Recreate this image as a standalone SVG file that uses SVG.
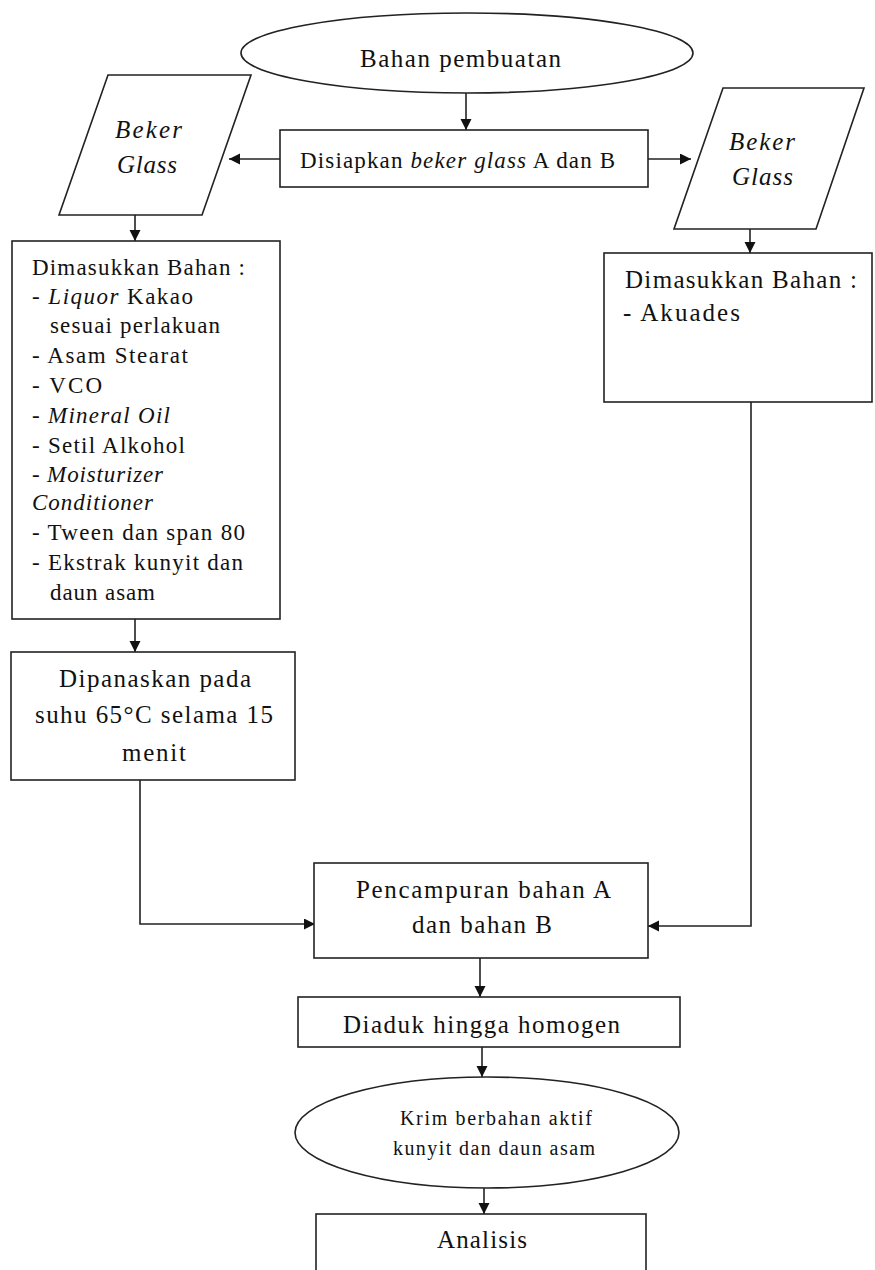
<svg xmlns="http://www.w3.org/2000/svg" width="875" height="1270" viewBox="0 0 875 1270">
<style>
.s{fill:#fff;stroke:#222;stroke-width:1.6}
.c{fill:none;stroke:#222;stroke-width:1.6}
text{font-family:"Liberation Serif","Times New Roman",serif;fill:#111}
.i{font-style:italic}
.t20{font-size:23px}
.t25{font-size:25px}
.t17{font-size:20px}
</style>
<defs>
<marker id="ah" markerWidth="12" markerHeight="12" refX="11" refY="5.5" orient="auto" markerUnits="userSpaceOnUse">
<path d="M0,0 L11,5.5 L0,11 Z" fill="#111"/>
</marker>
</defs>
<rect width="875" height="1270" fill="#fff"/>
<g id="connectors">
<line class="c" x1="466" y1="93" x2="466" y2="130" marker-end="url(#ah)"/>
<line class="c" x1="280" y1="159" x2="229" y2="159" marker-end="url(#ah)"/>
<line class="c" x1="648" y1="159" x2="691" y2="159" marker-end="url(#ah)"/>
<line class="c" x1="135" y1="215" x2="135" y2="241" marker-end="url(#ah)"/>
<line class="c" x1="750" y1="229" x2="750" y2="253" marker-end="url(#ah)"/>
<line class="c" x1="135" y1="619" x2="135" y2="652" marker-end="url(#ah)"/>
<polyline class="c" points="140,780 140,924 315,924" marker-end="url(#ah)"/>
<polyline class="c" points="751,402 751,926 648,926" marker-end="url(#ah)"/>
<line class="c" x1="480" y1="958" x2="480" y2="997" marker-end="url(#ah)"/>
<line class="c" x1="482" y1="1047" x2="482" y2="1077" marker-end="url(#ah)"/>
<line class="c" x1="484" y1="1188" x2="484" y2="1214" marker-end="url(#ah)"/>
</g>
<g id="start">
<ellipse class="s" cx="467" cy="53" rx="226" ry="40"/>
<text class="t25" x="360" y="67" textLength="201" lengthAdjust="spacing">Bahan pembuatan</text>
</g>
<g id="prepare">
<rect class="s" x="280" y="130" width="368" height="57"/>
<text class="t20" x="300" y="168" textLength="315" lengthAdjust="spacing">Disiapkan <tspan class="i">beker glass</tspan> A dan B</text>
</g>
<g id="beker-left">
<polygon class="s" points="108,75 251,75 202,215 59,215"/>
<text class="t25 i" x="115" y="138" textLength="67" lengthAdjust="spacing">Beker</text>
<text class="t25 i" x="117" y="173" textLength="60" lengthAdjust="spacing">Glass</text>
</g>
<g id="beker-right">
<polygon class="s" points="723,88 864,88 816,229 674,229"/>
<text class="t25 i" x="729" y="150" textLength="66" lengthAdjust="spacing">Beker</text>
<text class="t25 i" x="732" y="185" textLength="61" lengthAdjust="spacing">Glass</text>
</g>
<g id="bahan-a">
<rect class="s" x="12" y="241" width="268" height="378"/>
<text class="t20" x="32" y="275" textLength="213" lengthAdjust="spacing">Dimasukkan Bahan :</text>
<text class="t20" x="32" y="304" textLength="161" lengthAdjust="spacing">- <tspan class="i">Liquor</tspan> Kakao</text>
<text class="t20" x="50" y="333" textLength="170" lengthAdjust="spacing">sesuai perlakuan</text>
<text class="t20" x="32" y="363" textLength="156" lengthAdjust="spacing">- Asam Stearat</text>
<text class="t20" x="32" y="393" textLength="70" lengthAdjust="spacing">- VCO</text>
<text class="t20" x="32" y="423" textLength="138" lengthAdjust="spacing">- <tspan class="i">Mineral Oil</tspan></text>
<text class="t20" x="32" y="453" textLength="153" lengthAdjust="spacing">- Setil Alkohol</text>
<text class="t20" x="32" y="482" textLength="131" lengthAdjust="spacing">- <tspan class="i">Moisturizer</tspan></text>
<text class="t20 i" x="32" y="510" textLength="121" lengthAdjust="spacing">Conditioner</text>
<text class="t20" x="32" y="540" textLength="213" lengthAdjust="spacing">- Tween dan span 80</text>
<text class="t20" x="32" y="570" textLength="211" lengthAdjust="spacing">- Ekstrak kunyit dan</text>
<text class="t20" x="50" y="600" textLength="105" lengthAdjust="spacing">daun asam</text>
</g>
<g id="bahan-b">
<rect class="s" x="604" y="253" width="268" height="149"/>
<text class="t25" x="625" y="288" textLength="232" lengthAdjust="spacing">Dimasukkan Bahan :</text>
<text class="t25" x="623" y="321" textLength="117" lengthAdjust="spacing">- Akuades</text>
</g>
<g id="heat">
<rect class="s" x="11" y="652" width="284" height="128"/>
<text class="t25" x="59" y="687" textLength="192" lengthAdjust="spacing">Dipanaskan pada</text>
<text class="t25" x="35" y="723" textLength="238" lengthAdjust="spacing">suhu 65°C selama 15</text>
<text class="t25" x="122" y="761" textLength="64" lengthAdjust="spacing">menit</text>
</g>
<g id="mix">
<rect class="s" x="314" y="863" width="334" height="95"/>
<text class="t25" x="356" y="898" textLength="255" lengthAdjust="spacing">Pencampuran bahan A</text>
<text class="t25" x="412" y="933" textLength="140" lengthAdjust="spacing">dan bahan B</text>
</g>
<g id="stir">
<rect class="s" x="298" y="997" width="382" height="50"/>
<text class="t25" x="343" y="1033" textLength="277" lengthAdjust="spacing">Diaduk hingga homogen</text>
</g>
<g id="product">
<ellipse class="s" cx="487" cy="1132.5" rx="192" ry="55.5"/>
<text class="t17" x="400" y="1125" textLength="192" lengthAdjust="spacing">Krim berbahan aktif</text>
<text class="t17" x="393" y="1155" textLength="202" lengthAdjust="spacing">kunyit dan daun asam</text>
</g>
<g id="analysis">
<rect class="s" x="316" y="1214" width="330" height="80"/>
<text class="t25" x="437" y="1248" textLength="90" lengthAdjust="spacing">Analisis</text>
</g>
</svg>
